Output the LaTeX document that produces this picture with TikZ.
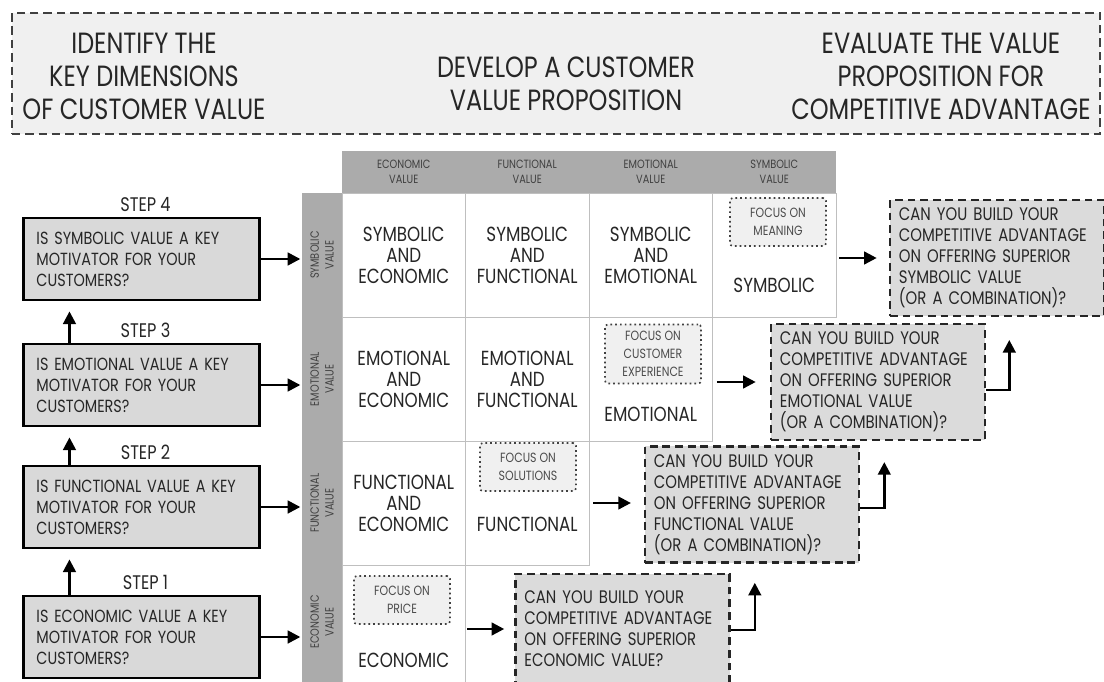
\documentclass[tikz,border=0pt]{standalone}
\usepackage{fontspec}
\setmainfont{Poppins}[FakeStretch=0.82]
\usetikzlibrary{positioning, arrows.meta}

\begin{document}
\begin{tikzpicture}[
    x=0.025cm, y=-0.025cm,
    % Header box style
    hdrbox/.style={
        rectangle,
        draw=black!75,
        line width=1.1pt,
        dash pattern=on 6pt off 3.5pt,
        fill=black!6,
        minimum width=27.2cm,
        minimum height=3.025cm
    },
    % Header text style
    hdrtxt/.style={
        align=center,
        inner sep=0pt,
        font=\fontsize{20.8}{23.4}\selectfont,
        text=black!85
    },
    % Step box style
    stepbox/.style={
        rectangle,
        draw=black,
        line width=2pt,
        fill=black!15,
        minimum height=2.05cm,
        text width=5.25cm,
        inner xsep=0.315cm,
        align=left,
        font=\fontsize{12.5}{15}\selectfont,
        text=black!85
    },
    % Step label style
    steplbl/.style={
        inner sep=0pt,
        font=\fontsize{14}{16}\selectfont,
        text=black!85
    },
    % Grey band style
    band/.style={
        rectangle,
        fill=black!33,
        inner sep=0pt
    },
    % Band label style
    bandlbl/.style={
        align=center,
        inner sep=0pt,
        font=\fontsize{8.5}{10.5}\selectfont,
        text=black!75
    },
    % Matrix cell style
    cell/.style={
        rectangle,
        draw=black!25,
        line width=0.6pt,
        minimum width=3.0875cm,
        minimum height=3.1cm,
        inner sep=0pt,
        align=center,
        font=\fontsize{14.5}{15}\selectfont,
        text=black!85
    },
    % Cell text style
    celltxt/.style={
        inner sep=0pt,
        font=\fontsize{14.5}{15}\selectfont,
        text=black!85
    },
    % Focus box style
    focus/.style={
        rectangle,
        rounded corners=2pt,
        draw=black!75,
        line width=1.2pt,
        dash pattern=on 1.2pt off 2.2pt,
        fill=black!6,
        minimum width=2.4cm,
        minimum height=1.2cm,
        inner sep=0pt,
        align=center,
        font=\fontsize{9.5}{13}\selectfont,
        text=black!70
    },
    % Question box style
    qbox/.style={
        rectangle,
        draw=black!85,
        line width=1.8pt,
        dash pattern=on 5.5pt off 3.5pt,
        fill=black!14,
        minimum height=2.9cm,
        text width=4.9cm,
        inner xsep=0.225cm,
        align=left,
        font=\fontsize{12.9}{15}\selectfont,
        text=black!85
    },
    % Arrow style
    arrow/.style={
        -{Triangle[length=9pt,width=9pt]},
        line width=1.8pt,
        black
    }
]

\path[use as bounding box, fill=white] (0,0) rectangle (1104,682);

% === Header ===
\node[hdrbox] (header) at (556,73.5) {};
\node[hdrtxt] (hdrleft) at (144,76) {IDENTIFY THE\\KEY DIMENSIONS\\OF CUSTOMER VALUE};
\node[hdrtxt] (hdrmid) at (566,84) {DEVELOP A CUSTOMER\\VALUE PROPOSITION};
\node[hdrtxt] (hdrright) at (941,76) {EVALUATE THE VALUE\\PROPOSITION FOR\\COMPETITIVE ADVANTAGE};

% === Steps (left) ===
\node[stepbox] (stepfour) at (141.5,259) {IS SYMBOLIC VALUE A KEY\\MOTIVATOR FOR YOUR\\CUSTOMERS?};
\node[stepbox] (stepthree) at (141.5,385) {IS EMOTIONAL VALUE A KEY\\MOTIVATOR FOR YOUR\\CUSTOMERS?};
\node[stepbox] (steptwo) at (141.5,507) {IS FUNCTIONAL VALUE A KEY\\MOTIVATOR FOR YOUR\\CUSTOMERS?};
\node[stepbox] (stepone) at (141.5,637) {IS ECONOMIC VALUE A KEY\\MOTIVATOR FOR YOUR\\CUSTOMERS?};

\node[steplbl, above=0.12cm of stepfour, xshift=0.1cm] (lblfour) {STEP 4};
\node[steplbl, above=0.12cm of stepthree, xshift=0.1cm] (lblthree) {STEP 3};
\node[steplbl, above=0.12cm of steptwo, xshift=0.1cm] (lbltwo) {STEP 2};
\node[steplbl, above=0.12cm of stepone, xshift=0.1cm] (lblone) {STEP 1};

% Arrows going up the steps
\draw[arrow, shorten >=0.25cm] ([xshift=1.175cm]stepone.north west) -- ([xshift=1.175cm]steptwo.south west);
\draw[arrow, shorten >=0.25cm] ([xshift=1.175cm]steptwo.north west) -- ([xshift=1.175cm]stepthree.south west);
\draw[arrow, shorten >=0.25cm] ([xshift=1.175cm]stepthree.north west) -- ([xshift=1.175cm]stepfour.south west);

% === Matrix ===
\node[band, minimum width=12.35cm, minimum height=1.05cm] (colband) at (589,172) {};
\node[band, minimum width=1cm, minimum height=12.4cm] (rowband) at (322,441) {};

% Column headers
\node[bandlbl] (hdecon) at (403.75,172) {ECONOMIC\\VALUE};
\node[bandlbl] (hdfunc) at (527.25,172) {FUNCTIONAL\\VALUE};
\node[bandlbl] (hdemo) at (650.75,172) {EMOTIONAL\\VALUE};
\node[bandlbl] (hdsym) at (774.25,172) {SYMBOLIC\\VALUE};

% Row headers
\node[bandlbl, rotate=90] (rlsym) at (322,255) {SYMBOLIC\\VALUE};
\node[bandlbl, rotate=90] (rlemo) at (322,379) {EMOTIONAL\\VALUE};
\node[bandlbl, rotate=90] (rlfunc) at (322,503) {FUNCTIONAL\\VALUE};
\node[bandlbl, rotate=90] (rlecon) at (322,622) {ECONOMIC\\VALUE};

% Symbolic row
\node[cell] (symecon) at (403.75,255) {SYMBOLIC\\AND\\ECONOMIC};
\node[cell] (symfunc) at (527.25,255) {SYMBOLIC\\AND\\FUNCTIONAL};
\node[cell] (symemo) at (650.75,255) {SYMBOLIC\\AND\\EMOTIONAL};
\node[cell] (symsym) at (774.25,255) {};
\node[focus] (focmeaning) at (778,222) {FOCUS ON\\MEANING};
\node[celltxt] (txtsym) at (774.25,285) {SYMBOLIC};

% Emotional row
\node[cell] (emoecon) at (403.75,379) {EMOTIONAL\\AND\\ECONOMIC};
\node[cell] (emofunc) at (527.25,379) {EMOTIONAL\\AND\\FUNCTIONAL};
\node[cell] (emoemo) at (650.75,379) {};
\node[focus, minimum height=1.475cm] (foccustomer) at (653,354) {FOCUS ON\\CUSTOMER\\EXPERIENCE};
\node[celltxt] (txtemo) at (650.75,414) {EMOTIONAL};

% Functional row
\node[cell] (funecon) at (403.75,503) {FUNCTIONAL\\AND\\ECONOMIC};
\node[cell] (funfunc) at (527.25,503) {};
\node[focus] (focsolutions) at (528,467) {FOCUS ON\\SOLUTIONS};
\node[celltxt] (txtfunc) at (527.25,524) {FUNCTIONAL};

% Economic row
\node[cell] (ecoecon) at (403.75,627) {};
\node[focus] (focprice) at (402,600) {FOCUS ON\\PRICE};
\node[celltxt] (txtecon) at (403.75,660) {ECONOMIC};

% Step arrows into the matrix
\draw[arrow, shorten >=1pt] (stepfour.east) -- (stepfour.east -| rowband.west);
\draw[arrow, shorten >=1pt] (stepthree.east) -- (stepthree.east -| rowband.west);
\draw[arrow, shorten >=1pt] (steptwo.east) -- (steptwo.east -| rowband.west);
\draw[arrow, shorten >=1pt] (stepone.east) -- (stepone.east -| rowband.west);

% === Competitive advantage questions ===
\node[qbox] (qsym) at (997,258) {CAN YOU BUILD YOUR\\COMPETITIVE ADVANTAGE\\ON OFFERING SUPERIOR\\SYMBOLIC VALUE\\(OR A COMBINATION)?};
\node[qbox] (qemo) at (878,382) {CAN YOU BUILD YOUR\\COMPETITIVE ADVANTAGE\\ON OFFERING SUPERIOR\\EMOTIONAL VALUE\\(OR A COMBINATION)?};
\node[qbox] (qfun) at (752,504.5) {CAN YOU BUILD YOUR\\COMPETITIVE ADVANTAGE\\ON OFFERING SUPERIOR\\FUNCTIONAL VALUE\\(OR A COMBINATION)?};
\node[qbox, minimum height=2.75cm] (qeco) at (622.5,629) {CAN YOU BUILD YOUR\\COMPETITIVE ADVANTAGE\\ON OFFERING SUPERIOR\\ECONOMIC VALUE?};

% Arrows from the matrix diagonal
\draw[arrow, shorten <=0.075cm, shorten >=0.3cm] (symsym.east |- qsym.west) -- (qsym.west);
\draw[arrow, shorten <=0.1cm, shorten >=0.35cm] (emoemo.east |- qemo.west) -- (qemo.west);
\draw[arrow, shorten <=0.1cm, shorten >=0.32cm] (funfunc.east) -- (funfunc.east -| qfun.west);
\draw[arrow, shorten <=0.03cm, shorten >=0.25cm] (ecoecon.east |- qeco.west) -- (qeco.west);

% Elbow arrows up to the next level
\draw[arrow] ([yshift=-0.2cm]qemo.east) -- ++(0.575cm,0) -- ++(0,1.25cm);
\draw[arrow] ([yshift=-0.09cm]qfun.east) -- ++(0.6cm,0) -- ++(0,1.15cm);
\draw[arrow] ([yshift=-0.02cm]qeco.east) -- ++(0.6cm,0) -- ++(0,1.175cm);

\end{tikzpicture}
\end{document}
